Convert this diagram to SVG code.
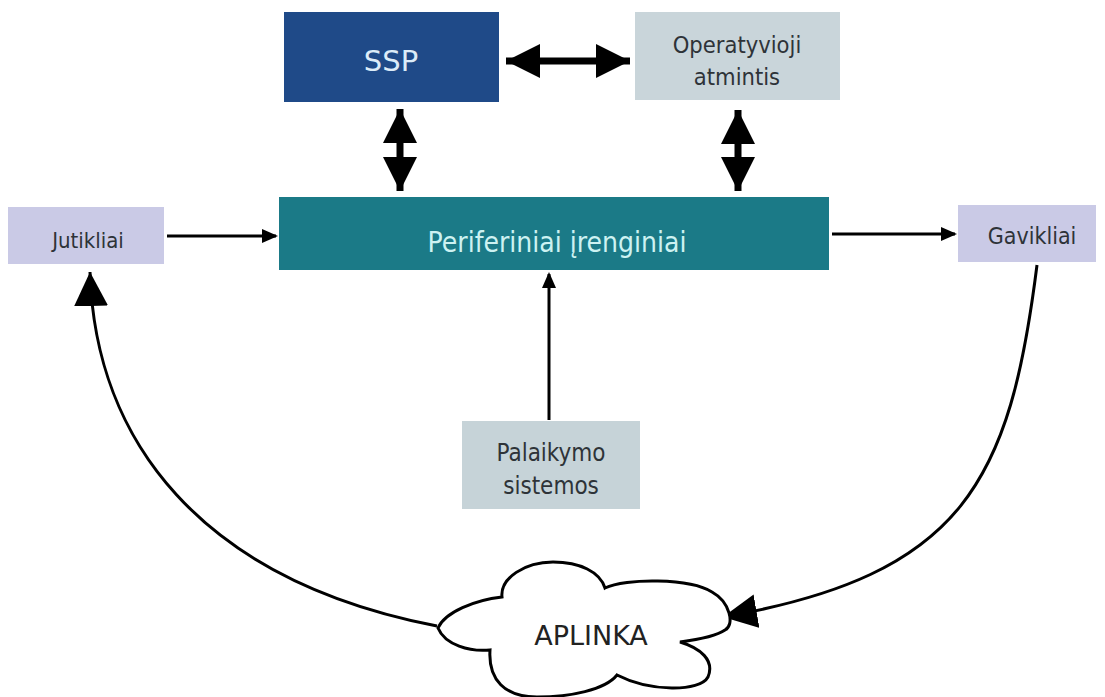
<svg xmlns="http://www.w3.org/2000/svg" width="1105" height="697" viewBox="0 0 1105 697">
<defs>
<style>
.t{font-family:"DejaVu Sans Condensed","DejaVu Sans","Liberation Sans",sans-serif;font-stretch:condensed;text-anchor:middle;fill:#2e3338}
.c{fill:none;stroke:#000;stroke-width:3}
.b{fill:none;stroke:#000;stroke-width:7}
</style>
<marker id="ah" markerUnits="userSpaceOnUse" markerWidth="34" markerHeight="34" refX="30" refY="15" orient="auto-start-reverse" viewBox="0 0 30 30">
<path d="M0,0 L30,15 L0,30 z" fill="#000"/>
</marker>
<marker id="as" markerUnits="userSpaceOnUse" markerWidth="16" markerHeight="16" refX="14" refY="8" orient="auto" viewBox="0 0 16 16">
<path d="M0,1 L16,8 L0,15 z" fill="#000"/>
</marker>
</defs>
<rect width="1105" height="697" fill="#fff"/>
<g id="connectors">
<line class="b" x1="506" y1="61" x2="630" y2="61" marker-start="url(#ah)" marker-end="url(#ah)"/>
<line class="b" x1="400" y1="109" x2="400" y2="191" marker-start="url(#ah)" marker-end="url(#ah)"/>
<line class="b" x1="738" y1="110" x2="738" y2="191" marker-start="url(#ah)" marker-end="url(#ah)"/>
<line class="c" x1="167" y1="236" x2="276" y2="236" marker-end="url(#as)"/>
<line class="c" x1="832" y1="234" x2="955" y2="234" marker-end="url(#as)"/>
<line class="c" x1="549" y1="420" x2="549" y2="274" marker-end="url(#as)"/>
<path class="c" d="M437,626 C200,580 95,440 90,272" marker-end="url(#ah)"/>
<path class="c" d="M1037,265 C1010,480 965,575 723,617" marker-end="url(#ah)"/>
</g>
<g id="ssp">
<rect x="284" y="12" width="215" height="90" fill="#1f4a88"/>
<text x="391" y="71" class="t" style="font-family:'DejaVu Sans',sans-serif;font-stretch:normal;font-size:29px;fill:#dcecf8">SSP</text>
</g>
<g id="operatyvioji">
<rect x="635" y="12" width="205" height="88" fill="#c9d5da"/>
<text x="737" y="53" class="t" style="font-size:23.5px">Operatyvioji</text>
<text x="737" y="85" class="t" style="font-size:23.5px">atmintis</text>
</g>
<g id="periferiniai">
<rect x="279" y="197" width="550" height="73" fill="#1b7a87"/>
<text x="557" y="252" class="t" style="font-size:28px;fill:#cdf2f2">Periferiniai įrenginiai</text>
</g>
<g id="jutikliai">
<rect x="8" y="207" width="156" height="57" fill="#cacae6"/>
<text x="88" y="248" class="t" style="font-size:22px">Jutikliai</text>
</g>
<g id="gavikliai">
<rect x="958" y="205" width="138" height="57" fill="#cacae6"/>
<text x="1032" y="244" class="t" style="font-size:23px">Gavikliai</text>
</g>
<g id="palaikymo">
<rect x="462" y="421" width="178" height="88" fill="#c6d3d8"/>
<text x="551" y="461" class="t" style="font-size:24px">Palaikymo</text>
<text x="551" y="494" class="t" style="font-size:24px">sistemos</text>
</g>
<g id="aplinka">
<path d="M438,628 C445,612 475,600 502,597 C500,578 525,562 553,562 C580,562 600,572 605,588 C625,578 690,578 712,592 C730,602 735,625 725,630 C715,637 695,640 680,642 C700,648 715,660 708,677 C700,692 650,692 617,675 C605,690 570,697 537,697 C505,697 488,680 490,650 C470,652 445,645 438,628 Z" fill="#fff" stroke="#000" stroke-width="3"/>
<text x="591" y="645" class="t" style="font-family:'DejaVu Sans',sans-serif;font-stretch:normal;font-size:27px;fill:#222">APLINKA</text>
</g>
</svg>
